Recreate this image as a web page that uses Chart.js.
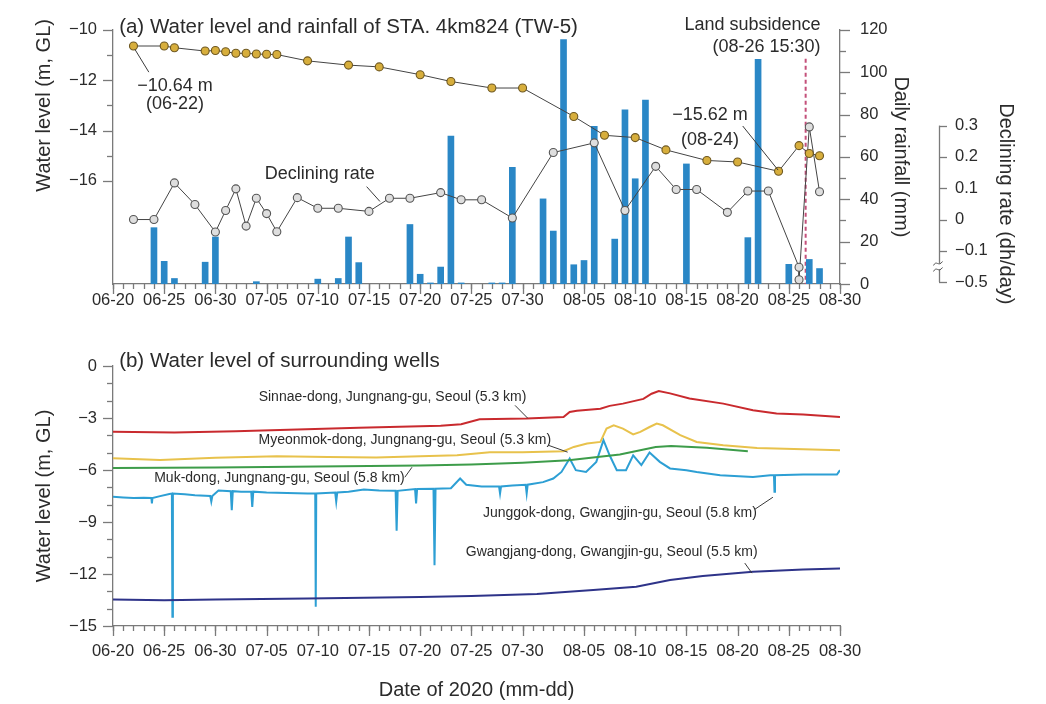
<!DOCTYPE html>
<html>
<head>
<meta charset="utf-8">
<script src="https://cdn.jsdelivr.net/npm/chart.js@4.4.1/dist/chart.umd.min.js"></script>
<style>
  html, body { margin: 0; padding: 0; background: #fff; }
  #wrap { position: relative; width: 1046px; height: 704px; }
  canvas { position: absolute; left: 0; }
  #panelA { top: 0; }
  #panelB { top: 330px; }
</style>
</head>
<body>
<div id="wrap">
  <canvas id="panelA" width="1046" height="330"></canvas>
  <canvas id="panelB" width="1046" height="374"></canvas>
</div>
<script>
// ---------- calendar helpers: x values are days counted from 06-20 ----------
const START = Date.UTC(2020, 5, 20);
const DAY_MS = 86400000;
function dayOf(mmdd) {
  const [m, d] = mmdd.split('-').map(Number);
  return Math.round((Date.UTC(2020, m - 1, d) - START) / DAY_MS);
}
function labelOf(day) {
  const t = new Date(START + Math.round(day) * DAY_MS);
  return String(t.getUTCMonth() + 1).padStart(2, '0') + '-' + String(t.getUTCDate()).padStart(2, '0');
}

// ---------- axis ticks ----------
const dateTicks = ['06-20','06-25','06-30','07-05','07-10','07-15','07-20','07-25','07-30','08-05','08-10','08-15','08-20','08-25','08-30'];
const levelTicksA = [-16, -14, -12, -10];
const rainTicks = [0, 20, 40, 60, 80, 100, 120];
const rateTicks = [-0.5, -0.1, 0, 0.1, 0.2, 0.3];
const levelTicksB = [-15, -12, -9, -6, -3, 0];

// ---------- (a) STA. 4km824 (TW-5) ----------
const levelDates = ['06-22','06-25','06-26','06-29','06-30','07-01','07-02','07-03','07-04','07-05','07-06','07-09','07-13','07-16','07-20','07-23','07-27','07-30','08-04','08-07','08-10','08-13','08-17','08-20','08-24','08-26','08-27','08-28'];
const levelValues = [-10.64,-10.64,-10.71,-10.84,-10.82,-10.87,-10.93,-10.93,-10.96,-10.97,-10.98,-11.23,-11.40,-11.47,-11.78,-12.05,-12.31,-12.31,-13.44,-14.19,-14.28,-14.77,-15.19,-15.25,-15.62,-14.60,-14.91,-15.00];

const rainDates = ['06-24','06-25','06-26','06-29','06-30','07-04','07-10','07-12','07-13','07-14','07-19','07-20','07-21','07-22','07-23','07-24','07-27','07-28','07-29','08-01','08-02','08-03','08-04','08-05','08-06','08-08','08-09','08-10','08-11','08-15','08-21','08-22','08-25','08-27','08-28'];
const rainValues = [26.6,10.7,2.6,10.3,22.2,1.1,2.3,2.6,22.2,10.1,28.1,4.6,0.5,8.0,69.8,0.5,0.5,0.5,55.1,40.2,25.0,115.4,9.1,11.1,74.5,21.2,82.2,49.7,86.8,56.7,21.9,106.1,9.3,11.6,7.3];

const rateDates = ['06-22','06-24','06-26','06-28','06-30','07-01','07-02','07-03','07-04','07-05','07-06','07-08','07-10','07-12','07-15','07-17','07-19','07-22','07-24','07-26','07-29','08-02','08-06','08-09','08-12','08-14','08-16','08-19','08-21','08-23','08-26','08-26','08-27','08-28'];
const rateValues = [0.0,0.0,0.117,0.048,-0.04,0.029,0.098,-0.021,0.068,0.019,-0.039,0.07,0.036,0.036,0.026,0.068,0.068,0.086,0.063,0.063,0.005,0.214,0.245,0.029,0.17,0.096,0.096,0.023,0.091,0.091,-0.31,-0.47,0.296,0.089];

const subsidenceTime = { date: '08-26', hour: 15.5 };

// ---------- (b) surrounding wells: [day since 06-20, level] ----------
const sinnaeDong = [[0,-3.80],[6,-3.83],[12,-3.76],[18,-3.66],[24,-3.56],[28,-3.51],[32,-3.45],[34,-3.36],[35.8,-3.07],[40.4,-3.03],[44,-2.94],[44.6,-2.65],[45.3,-2.58],[47.6,-2.46],[48.5,-2.30],[49.8,-2.17],[51.8,-1.90],[52.6,-1.60],[53.3,-1.44],[54.4,-1.58],[56.3,-1.88],[59.6,-2.17],[62.5,-2.55],[64.8,-2.74],[67.4,-2.80],[71,-2.94]];
const myeonmokDong = [[0,-5.32],[4.6,-5.43],[10,-5.30],[16,-5.20],[21,-5.25],[25.7,-5.28],[30,-5.20],[33.6,-5.15],[36.8,-4.98],[40,-4.98],[44,-4.92],[45,-4.67],[46.3,-4.47],[47.6,-4.38],[48.2,-3.61],[48.9,-3.42],[49.8,-3.61],[50.8,-3.95],[51.5,-3.80],[52.4,-3.52],[53.1,-3.32],[53.7,-3.42],[55.4,-3.99],[57,-4.38],[59.6,-4.57],[62.9,-4.73],[67.4,-4.80],[71,-4.86]];
const mukDong = [[0,-5.88],[10,-5.85],[20,-5.80],[30,-5.74],[35,-5.68],[40,-5.58],[44.5,-5.44],[49.5,-5.11],[53,-4.67],[54.5,-4.61],[58,-4.72],[62,-4.92]];
const junggokDong = [[0,-7.55],[1,-7.58],[2,-7.62],[3,-7.60],[3.75,-7.62],[3.8,-7.93],[3.85,-7.62],[4.5,-7.52],[5.5,-7.38],[5.75,-7.36],[5.8,-14.47],[5.85,-7.36],[7,-7.40],[8,-7.45],[9.5,-7.50],[9.6,-7.82],[9.7,-7.50],[10.3,-7.18],[11.5,-7.22],[11.6,-8.32],[11.7,-7.22],[12.5,-7.25],[13.5,-7.25],[13.6,-8.13],[13.7,-7.25],[15,-7.30],[17,-7.32],[19,-7.35],[19.75,-7.35],[19.8,-13.89],[19.85,-7.35],[21.7,-7.30],[21.8,-7.82],[21.9,-7.30],[23,-7.25],[24.5,-7.12],[26,-7.18],[27.6,-7.20],[27.7,-9.51],[27.8,-7.20],[29.5,-7.10],[29.6,-7.93],[29.7,-7.10],[31.3,-7.08],[31.4,-11.49],[31.5,-7.08],[33,-7.05],[33.9,-6.49],[34.5,-6.85],[36,-6.95],[37.7,-6.95],[37.8,-7.36],[37.9,-6.95],[39,-6.90],[40.3,-6.85],[40.4,-7.36],[40.5,-6.85],[42,-6.70],[43,-6.49],[43.8,-6.11],[44.6,-5.34],[45.2,-6.01],[46.2,-6.11],[47.2,-5.53],[47.9,-4.28],[48.5,-5.15],[49.2,-6.01],[50.1,-6.01],[50.8,-5.15],[51.6,-5.72],[52.4,-4.99],[53.4,-5.53],[54.4,-5.91],[56,-6.01],[57,-6.11],[59.3,-6.30],[62.5,-6.40],[64.2,-6.30],[64.55,-6.30],[64.6,-7.26],[64.65,-6.30],[67.4,-6.26],[70.7,-6.26],[71,-6.01]];
const gwangjangDong = [[0,-13.47],[5,-13.52],[10,-13.47],[19,-13.41],[30,-13.33],[35,-13.27],[41.4,-13.16],[46.9,-12.93],[51.1,-12.74],[54.4,-12.35],[57.6,-12.12],[62.5,-11.87],[67.4,-11.74],[71,-11.68]];

// ---------- styling ----------
const FONT = "'Liberation Sans', Arial, sans-serif";
const TEXT = '#2b2b2b';
const AXIS = '#7a7a7a';
Chart.defaults.font.family = FONT;
Chart.defaults.color = TEXT;

const fmt = (v, digits) => (v < -1e-9 ? '\u2212' : '') + Math.abs(v).toFixed(digits);

// broken declining-rate axis: values below -0.1 are squeezed 4:1
const RATE_BREAK = -0.1, RATE_SQUEEZE = 4;
const rateToAxis = v => v < RATE_BREAK ? RATE_BREAK + (v - RATE_BREAK) / RATE_SQUEEZE : v;
const axisToRate = a => a < RATE_BREAK - 1e-9 ? RATE_BREAK + (a - RATE_BREAK) * RATE_SQUEEZE : a;

const xMajor = dateTicks.map(dayOf);
const xMinor = Array.from({ length: 72 }, (_, i) => i);

// draws short/long tick marks outward from each listed axis
const tickMarks = {
  id: 'tickMarks',
  afterDraw(chart, args, opts) {
    const ctx = chart.ctx;
    ctx.save();
    ctx.strokeStyle = AXIS;
    ctx.lineWidth = 1.3;
    for (const [id, spec] of Object.entries(opts.scales)) {
      const s = chart.scales[id];
      const draw = (vals, len) => vals.forEach(v => {
        const p = Math.round(s.getPixelForValue(v)) + 0.5;
        ctx.beginPath();
        if (s.position === 'bottom') { ctx.moveTo(p, s.top); ctx.lineTo(p, s.top + len); }
        else if (s.position === 'left') { ctx.moveTo(s.right, p); ctx.lineTo(s.right - len, p); }
        else { ctx.moveTo(s.left, p); ctx.lineTo(s.left + len, p); }
        ctx.stroke();
      });
      draw(spec.minor || [], spec.minorLen || 5);
      draw(spec.major, spec.majorLen || 10);
    }
    ctx.restore();
  }
};

// text labels, leader lines and reference lines placed in data units
function drawNotes(chart, items) {
  const ctx = chart.ctx;
  const xs = chart.scales.x;
  items.forEach(n => {
    const ys = chart.scales[n.axis];
    ctx.save();
    if (n.kind === 'text') {
      ctx.font = `${n.size}px ${FONT}`;
      ctx.fillStyle = TEXT;
      ctx.textAlign = n.align || 'center';
      ctx.textBaseline = 'middle';
      ctx.fillText(n.text, xs.getPixelForValue(n.x), ys.getPixelForValue(n.y));
    } else {
      ctx.strokeStyle = n.color || '#3a3a3a';
      ctx.lineWidth = n.width || 1;
      if (n.dash) ctx.setLineDash(n.dash);
      ctx.beginPath();
      ctx.moveTo(xs.getPixelForValue(n.x1), ys.getPixelForValue(n.y1));
      ctx.lineTo(xs.getPixelForValue(n.x2), ys.getPixelForValue(n.y2));
      ctx.stroke();
    }
    ctx.restore();
  });
}
const notes = {
  id: 'notes',
  beforeDatasetsDraw(chart, args, opts) { drawNotes(chart, opts.under || []); },
  afterDraw(chart, args, opts) { drawNotes(chart, opts.over || []); }
};

// axis line with break mark and rotated titles for panel (a)
const panelAExtras = {
  id: 'panelAExtras',
  afterDraw(chart) {
    const ctx = chart.ctx;
    const r = chart.scales.yRate, lv = chart.scales.yLevel;
    const x = r.left + 0.5;
    const yTop = r.getPixelForValue(rateToAxis(0.3));
    const yBot = r.getPixelForValue(rateToAxis(-0.5));
    const yBrk = r.getPixelForValue(rateToAxis(-0.3));
    ctx.save();
    ctx.strokeStyle = AXIS; ctx.lineWidth = 1.3;
    ctx.beginPath(); ctx.moveTo(x, yTop); ctx.lineTo(x, yBot); ctx.stroke();
    ctx.fillStyle = '#fff';
    ctx.fillRect(x - 3, yBrk - 3, 6, 6);
    ctx.strokeStyle = '#555'; ctx.lineWidth = 1;
    [-3, 3].forEach(dy => {
      ctx.beginPath();
      ctx.moveTo(x - 6, yBrk + dy + 2);
      ctx.bezierCurveTo(x - 3, yBrk + dy - 4, x - 1, yBrk + dy + 4, x + 3, yBrk + dy - 2);
      ctx.stroke();
    });
    ctx.fillStyle = TEXT;
    ctx.font = `20px ${FONT}`;
    ctx.textAlign = 'center'; ctx.textBaseline = 'middle';
    ctx.translate(lv.left + 44, (lv.getPixelForValue(-10) + lv.getPixelForValue(-16)) / 2);
    ctx.rotate(-Math.PI / 2);
    ctx.fillText('Water level (m, GL)', 0, 0);
    ctx.restore();
    ctx.save();
    ctx.fillStyle = TEXT;
    ctx.font = `20px ${FONT}`;
    ctx.textAlign = 'center'; ctx.textBaseline = 'middle';
    ctx.translate(r.right - 40, (yTop + yBot) / 2);
    ctx.rotate(Math.PI / 2);
    ctx.fillText('Declining rate (dh/day)', 0, 0);
    ctx.restore();
  }
};

const xAxisBase = (height, pad, title) => ({
  type: 'linear', position: 'bottom', min: 0, max: 71, offset: false,
  grid: { display: false, drawTicks: false },
  border: { display: true, color: AXIS, width: 1.3 },
  ticks: { font: { size: 16.5 }, color: TEXT, padding: pad, maxRotation: 0, autoSkip: false, callback: v => labelOf(v) },
  afterBuildTicks: s => { s.ticks = xMajor.map(v => ({ value: v })); },
  afterFit: s => { s.height = height; },
  title: title
});

// ---------- panel (a) ----------
const i0622 = levelDates.indexOf('06-22');
const i0824 = levelDates.indexOf('08-24');
const subsidenceDay = dayOf(subsidenceTime.date) + subsidenceTime.hour / 24;

new Chart(document.getElementById('panelA'), {
  type: 'line',
  data: {
    datasets: [
      {
        label: 'Water level',
        data: levelDates.map((d, i) => ({ x: dayOf(d), y: levelValues[i] })),
        yAxisID: 'yLevel', order: 1,
        borderColor: '#444', borderWidth: 1, tension: 0,
        pointRadius: 4, pointBorderWidth: 1.1,
        pointBackgroundColor: '#d7ae3c', pointBorderColor: '#6e5822'
      },
      {
        label: 'Declining rate',
        data: rateDates.map((d, i) => ({ x: dayOf(d), y: rateToAxis(rateValues[i]) })),
        yAxisID: 'yRate', order: 2,
        borderColor: '#444', borderWidth: 1, tension: 0,
        pointRadius: 4, pointBorderWidth: 1.1,
        pointBackgroundColor: '#dedede', pointBorderColor: '#555'
      },
      {
        type: 'bar',
        label: 'Daily rainfall',
        data: rainDates.map((d, i) => ({ x: dayOf(d), y: rainValues[i] })),
        yAxisID: 'yRain', order: 3,
        backgroundColor: '#2a87c6', barThickness: 6
      }
    ]
  },
  options: {
    responsive: false, animation: false, events: [], devicePixelRatio: 1,
    layout: { padding: { top: 25, left: 0, right: 0, bottom: 0 } },
    plugins: {
      legend: { display: false }, tooltip: { enabled: false },
      tickMarks: { scales: {
        x: { major: xMajor, minor: xMinor, majorLen: 10, minorLen: 5 },
        yLevel: { major: levelTicksA, minor: [-15, -13, -11], majorLen: 10, minorLen: 6 },
        yRain: { major: rainTicks, minor: [10, 30, 50, 70, 90, 110], majorLen: 10, minorLen: 6 },
        yRate: { major: rateTicks.map(rateToAxis), majorLen: 8 }
      } },
      notes: {
        under: [
          { kind: 'line', axis: 'yLevel', x1: subsidenceDay, y1: -11.15, x2: subsidenceDay, y2: -20.1, color: '#c4507a', width: 2, dash: [4, 3] }
        ],
        over: [
          { kind: 'text', axis: 'yLevel', x: 0.6, y: -9.88, size: 20.5, align: 'left', text: '(a) Water level and rainfall of STA. 4km824 (TW-5)' },
          { kind: 'text', axis: 'yLevel', x: 6.05, y: -12.22, size: 18, text: fmt(levelValues[i0622], 2) + ' m' },
          { kind: 'text', axis: 'yLevel', x: 6.05, y: -12.95, size: 18, text: '(' + levelDates[i0622] + ')' },
          { kind: 'line', axis: 'yLevel', x1: 2.15, y1: -10.78, x2: 3.5, y2: -11.68 },
          { kind: 'text', axis: 'yLevel', x: 20.2, y: -15.73, size: 18, text: 'Declining rate' },
          { kind: 'line', axis: 'yLevel', x1: 24.77, y1: -16.23, x2: 26.07, y2: -16.82 },
          { kind: 'text', axis: 'yLevel', x: 69.1, y: -9.80, size: 18, align: 'right', text: 'Land subsidence' },
          { kind: 'text', axis: 'yLevel', x: 69.1, y: -10.70, size: 18, align: 'right', text: '(' + subsidenceTime.date + ' 15:30)' },
          { kind: 'text', axis: 'yLevel', x: 58.3, y: -13.39, size: 18, text: fmt(levelValues[i0824], 2) + ' m' },
          { kind: 'text', axis: 'yLevel', x: 58.3, y: -14.36, size: 18, text: '(' + levelDates[i0824] + ')' },
          { kind: 'line', axis: 'yLevel', x1: 61.5, y1: -13.82, x2: 64.95, y2: -15.57 }
        ]
      }
    },
    scales: {
      x: xAxisBase(46, 7, { display: false }),
      yLevel: {
        type: 'linear', position: 'left', min: -20.1, max: -10,
        grid: { display: false, drawTicks: false },
        border: { display: true, color: AXIS, width: 1.3 },
        ticks: { font: { size: 16.5 }, color: TEXT, padding: 16, callback: v => fmt(v, 0) },
        afterBuildTicks: s => { s.ticks = levelTicksA.map(v => ({ value: v })); },
        afterFit: s => { s.width = 113; }
      },
      yRain: {
        type: 'linear', position: 'right', min: 0, max: 120,
        grid: { display: false, drawTicks: false },
        border: { display: true, color: AXIS, width: 1.3 },
        ticks: { font: { size: 16.5 }, color: TEXT, padding: 20, callback: v => fmt(v, 0) },
        afterBuildTicks: s => { s.ticks = rainTicks.map(v => ({ value: v })); },
        afterFit: s => { s.width = 99; },
        title: { display: true, text: 'Daily rainfall (mm)', font: { size: 20 }, color: TEXT, padding: { top: 26, bottom: 0 } }
      },
      yRate: {
        type: 'linear', position: 'right', min: -0.206, max: 0.606,
        grid: { display: false, drawTicks: false },
        border: { display: false },
        ticks: { font: { size: 16.5 }, color: TEXT, padding: 16, callback: v => { const r = axisToRate(v); return Math.abs(r) < 1e-9 ? '0' : fmt(r, 1); } },
        afterBuildTicks: s => { s.ticks = rateTicks.map(v => ({ value: rateToAxis(v) })); },
        afterFit: s => { s.width = 107; }
      }
    }
  },
  plugins: [tickMarks, notes, panelAExtras]
});

// ---------- panel (b) ----------
const wellLine = (label, pts, color) => ({
  label, data: pts.map(([x, y]) => ({ x, y })),
  borderColor: color, borderWidth: 2, pointRadius: 0, tension: 0, fill: false
});

new Chart(document.getElementById('panelB'), {
  type: 'line',
  data: {
    datasets: [
      wellLine('Gwangjang-dong, Gwangjin-gu, Seoul (5.5 km)', gwangjangDong, '#2e3389'),
      wellLine('Sinnae-dong, Jungnang-gu, Seoul (5.3 km)', sinnaeDong, '#c92a2e'),
      wellLine('Myeonmok-dong, Jungnang-gu, Seoul (5.3 km)', myeonmokDong, '#e8c24c'),
      wellLine('Muk-dong, Jungnang-gu, Seoul (5.8 km)', mukDong, '#3d9c4a'),
      wellLine('Junggok-dong, Gwangjin-gu, Seoul (5.8 km)', junggokDong, '#2d9fd4')
    ]
  },
  options: {
    responsive: false, animation: false, events: [], devicePixelRatio: 1,
    layout: { padding: { top: 36, left: 0, right: 206, bottom: 0 } },
    plugins: {
      legend: { display: false }, tooltip: { enabled: false },
      tickMarks: { scales: {
        x: { major: xMajor, minor: xMinor, majorLen: 10, minorLen: 5 },
        y: { major: levelTicksB, minor: [-14, -13, -11, -10, -8, -7, -5, -4, -2, -1], majorLen: 10, minorLen: 6 }
      } },
      notes: {
        over: [
          { kind: 'text', axis: 'y', x: 0.6, y: 0.24, size: 20.5, align: 'left', text: '(b) Water level of surrounding wells' },
          { kind: 'text', axis: 'y', x: 27.3, y: -1.80, size: 14, text: 'Sinnae-dong, Jungnang-gu, Seoul (5.3 km)' },
          { kind: 'line', axis: 'y', x1: 39.26, y1: -2.27, x2: 40.5, y2: -3.01 },
          { kind: 'text', axis: 'y', x: 28.5, y: -4.28, size: 14, text: 'Myeonmok-dong, Jungnang-gu, Seoul (5.3 km)' },
          { kind: 'line', axis: 'y', x1: 42.5, y1: -4.57, x2: 44.4, y2: -4.97 },
          { kind: 'text', axis: 'y', x: 16.26, y: -6.47, size: 14, text: 'Muk-dong, Jungnang-gu, Seoul (5.8 km)' },
          { kind: 'line', axis: 'y', x1: 28.5, y1: -6.42, x2: 29.2, y2: -5.84 },
          { kind: 'text', axis: 'y', x: 49.5, y: -8.49, size: 14, text: 'Junggok-dong, Gwangjin-gu, Seoul (5.8 km)' },
          { kind: 'line', axis: 'y', x1: 62.7, y1: -8.26, x2: 64.45, y2: -7.57 },
          { kind: 'text', axis: 'y', x: 48.7, y: -10.74, size: 14, text: 'Gwangjang-dong, Gwangjin-gu, Seoul (5.5 km)' },
          { kind: 'line', axis: 'y', x1: 61.7, y1: -11.37, x2: 62.4, y2: -11.95 }
        ]
      }
    },
    scales: {
      x: xAxisBase(78, 16, { display: true, text: 'Date of 2020 (mm-dd)', font: { size: 20 }, color: TEXT, padding: { top: 0, bottom: 2 } }),
      y: {
        type: 'linear', position: 'left', min: -15, max: 0,
        grid: { display: false, drawTicks: false },
        border: { display: true, color: AXIS, width: 1.3 },
        ticks: { font: { size: 16.5 }, color: TEXT, padding: 16, callback: v => fmt(v, 0) },
        afterBuildTicks: s => { s.ticks = levelTicksB.map(v => ({ value: v })); },
        afterFit: s => { s.width = 113; },
        title: { display: true, text: 'Water level (m, GL)', font: { size: 20 }, color: TEXT, padding: { top: 32, bottom: 0 } }
      }
    }
  },
  plugins: [tickMarks, notes]
});
</script>
</body>
</html>
